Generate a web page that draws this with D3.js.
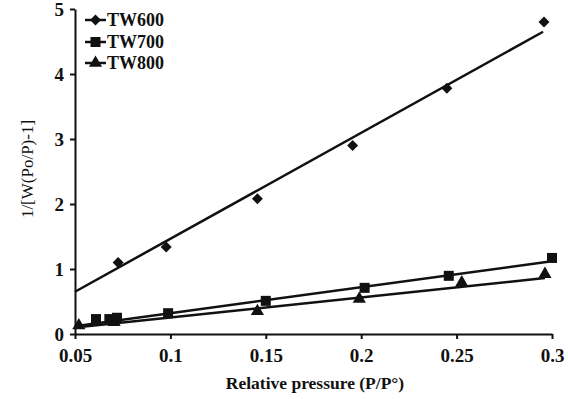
<!DOCTYPE html>
<html>
<head>
<meta charset="utf-8">
<script src="https://cdn.jsdelivr.net/npm/d3@7"></script>
<style>
  body { margin: 0; background: #fff; }
  text { font-family: "Liberation Serif", "Times New Roman", serif; }
</style>
</head>
<body>
<div id="chart"></div>
<script>
// data
const tw600X = [0.0726, 0.0978, 0.1456, 0.1955, 0.2449, 0.2958];
const tw600Y = [1.10, 1.34, 2.08, 2.90, 3.78, 4.80];
const tw600Fit = [[0.05, 0.65], [0.2953, 4.65]];

const tw700X = [0.061, 0.068, 0.072, 0.0988, 0.150, 0.2018, 0.2459, 0.300];
const tw700Y = [0.23, 0.23, 0.25, 0.32, 0.51, 0.71, 0.895, 1.17];
const tw700Fit = [[0.05, 0.12], [0.298, 1.11]];

const tw800X = [0.052, 0.0705, 0.1456, 0.199, 0.2527, 0.2963];
const tw800Y = [0.13, 0.18, 0.35, 0.54, 0.79, 0.92];
const tw800Fit = [[0.05, 0.10], [0.2963, 0.86]];

const seriesNames = ["TW600", "TW700", "TW800"];
const xTicks = [0.05, 0.1, 0.15, 0.2, 0.25, 0.3];
const yTicks = [0, 1, 2, 3, 4, 5];

const W = 568, H = 399;
const margin = { top: 9, right: 16, bottom: 65, left: 75 };

const svg = d3.select("#chart").append("svg")
  .attr("width", W)
  .attr("height", H);

const x = d3.scaleLinear().domain([0.05, 0.3]).range([margin.left, W - margin.right]);
const y = d3.scaleLinear().domain([0, 5]).range([H - margin.bottom, margin.top]);

// axes
const xAxis = svg.append("g")
  .attr("transform", `translate(0,${H - margin.bottom})`)
  .call(d3.axisBottom(x).tickValues(xTicks).tickFormat(d3.format("")).tickSize(5).tickSizeOuter(0).tickPadding(10));

const yAxis = svg.append("g")
  .attr("transform", `translate(${margin.left},0)`)
  .call(d3.axisLeft(y).tickValues(yTicks).tickFormat(d3.format("d")).tickSize(5).tickSizeOuter(0).tickPadding(6));

[xAxis, yAxis].forEach(a => {
  a.selectAll("path, line").attr("stroke", "#111").attr("stroke-width", 2);
  a.selectAll("text")
    .attr("fill", "#111")
    .style("font-family", "'Liberation Serif', serif")
    .style("font-size", "19px")
    .style("font-weight", "bold");
});

// axis titles
svg.append("text")
  .attr("x", 315)
  .attr("y", 389)
  .attr("text-anchor", "middle")
  .style("font-size", "17.5px")
  .style("font-weight", "bold")
  .attr("fill", "#111")
  .text("Relative pressure (P/P°)");

svg.append("text")
  .attr("transform", "translate(33,169) rotate(-90)")
  .attr("text-anchor", "middle")
  .style("font-size", "17px")
  .attr("fill", "#111")
  .text("1/[W(Po/P)-1]");

// fit lines
const line = d3.line().x(d => x(d[0])).y(d => y(d[1]));
[tw600Fit, tw700Fit, tw800Fit].forEach(f => {
  svg.append("path")
    .attr("d", line(f))
    .attr("fill", "none")
    .attr("stroke", "#111")
    .attr("stroke-width", 2.5);
});

// markers
const diamond = d3.symbol().type(d3.symbolSquare).size(60);
const square = d3.symbol().type(d3.symbolSquare).size(100);
const triangle = d3.symbol().type(d3.symbolTriangle).size(75);

function drawMarkers(xs, ys, sym, rot) {
  svg.append("g").selectAll("path")
    .data(xs.map((v, i) => [v, ys[i]]))
    .join("path")
    .attr("d", sym)
    .attr("transform", d => `translate(${x(d[0])},${y(d[1])}) rotate(${rot})`)
    .attr("fill", "#111");
}
drawMarkers(tw600X, tw600Y, diamond, 45);
drawMarkers(tw700X, tw700Y, square, 0);
drawMarkers(tw800X, tw800Y, triangle, 0);

// legend
const syms = [[diamond, 45], [square, 0], [triangle, 0]];
const legendY = [20, 42, 63];
seriesNames.forEach((name, i) => {
  const g = svg.append("g").attr("transform", `translate(85,${legendY[i]})`);
  g.append("line").attr("x1", 0).attr("x2", 21).attr("stroke", "#111").attr("stroke-width", 2.5);
  g.append("path")
    .attr("d", syms[i][0])
    .attr("transform", `translate(10.5,0) rotate(${syms[i][1]})`)
    .attr("fill", "#111");
  g.append("text")
    .attr("x", 22)
    .attr("dy", "0.35em")
    .style("font-size", "18px")
    .style("font-weight", "bold")
    .attr("fill", "#111")
    .text(name);
});
</script>
</body>
</html>
